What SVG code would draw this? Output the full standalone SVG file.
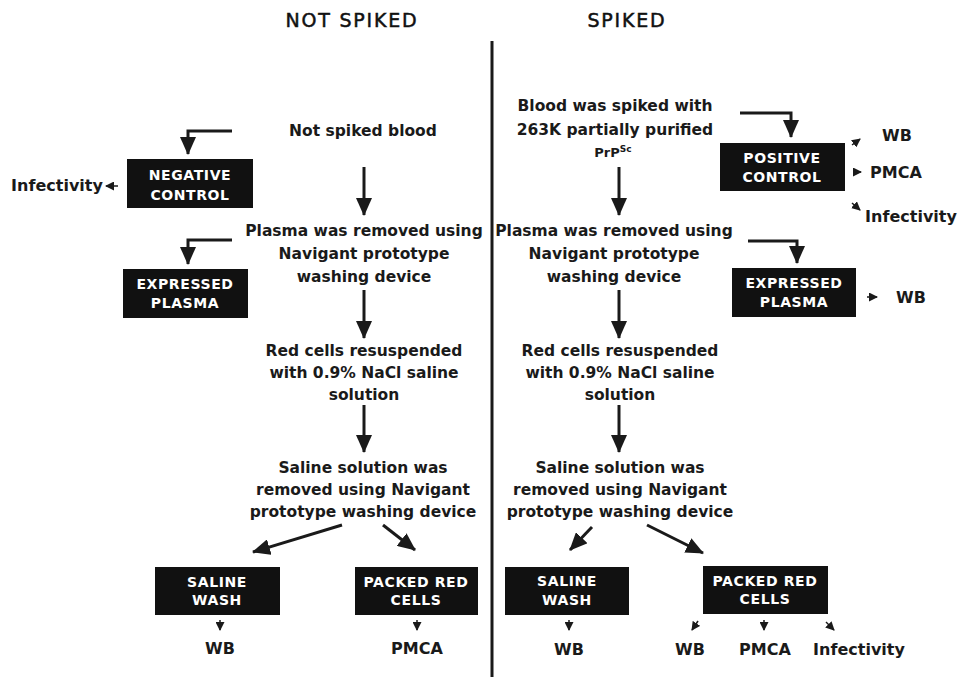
<svg xmlns="http://www.w3.org/2000/svg" width="966" height="677" viewBox="0 0 966 677">
<style>
.hdr{font-family:"DejaVu Sans",sans-serif;font-size:19px;fill:#111;stroke:#111;stroke-width:0.5;text-anchor:middle;letter-spacing:1.8px}
.t{font-family:"DejaVu Sans",sans-serif;font-weight:bold;font-size:15.5px;fill:#1a1a1a;text-anchor:middle}
.s{font-family:"DejaVu Sans",sans-serif;font-weight:bold;font-size:16px;fill:#1a1a1a;text-anchor:middle}
.box{fill:#111}
.bt{font-family:"DejaVu Sans",sans-serif;font-weight:bold;font-size:14px;fill:#fff;text-anchor:middle;letter-spacing:0.6px}
.big{stroke:#1a1a1a;stroke-width:3;fill:none;marker-end:url(#ah)}
.sm{stroke:#1a1a1a;stroke-width:1.5;fill:none;marker-end:url(#ahs)}
</style>
<defs>
<marker id="ah" markerUnits="userSpaceOnUse" markerWidth="18" markerHeight="16" refX="17" refY="8" orient="auto">
<path d="M0,0 L18,8 L0,16 z" fill="#1a1a1a"/>
</marker>
<marker id="ahs" markerUnits="userSpaceOnUse" markerWidth="9" markerHeight="9" refX="8" refY="4.5" orient="auto">
<path d="M0,0 L9,4.5 L0,9 z" fill="#1a1a1a"/>
</marker>
</defs>
<rect width="966" height="677" fill="#fff"/>

<text class="hdr" x="352" y="27">NOT SPIKED</text>
<text class="hdr" x="627" y="27">SPIKED</text>
<line x1="492" y1="41" x2="492" y2="677" stroke="#1a1a1a" stroke-width="3"/>

<!-- Left column text nodes -->
<g id="not-spiked-blood"><text class="t" x="363" y="136">Not spiked blood</text></g>
<g id="plasma-removed-left"><text class="t" x="364" y="236">Plasma was removed using</text><text class="t" x="364" y="259">Navigant prototype</text><text class="t" x="364" y="282">washing device</text></g>
<g id="red-cells-left"><text class="t" x="364" y="356">Red cells resuspended</text><text class="t" x="364" y="378">with 0.9% NaCl saline</text><text class="t" x="364" y="400">solution</text></g>
<g id="saline-removed-left"><text class="t" x="363" y="473">Saline solution was</text><text class="t" x="363" y="495">removed using Navigant</text><text class="t" x="363" y="517">prototype washing device</text></g>

<g id="negative-control"><rect class="box" x="127" y="159" width="126" height="49"/><text class="bt" x="190" y="180">NEGATIVE</text><text class="bt" x="190" y="200">CONTROL</text></g>
<g id="infectivity-left"><text class="s" x="57" y="191">Infectivity</text></g>
<g id="expressed-plasma-left"><rect class="box" x="123" y="269" width="125" height="49"/><text class="bt" x="185" y="289">EXPRESSED</text><text class="bt" x="185" y="308">PLASMA</text></g>
<g id="saline-wash-left"><rect class="box" x="155" y="567" width="125" height="48"/><text class="bt" x="217" y="587">SALINE</text><text class="bt" x="217" y="605">WASH</text></g>
<g id="packed-left"><rect class="box" x="355" y="567" width="123" height="48"/><text class="bt" x="416" y="587">PACKED RED</text><text class="bt" x="416" y="605">CELLS</text></g>
<g id="wb-left"><text class="s" x="220" y="654">WB</text></g>
<g id="pmca-left"><text class="s" x="417" y="654">PMCA</text></g>

<!-- Right column text nodes -->
<g id="spiked-blood"><text class="t" x="615" y="111">Blood was spiked with</text><text class="t" x="615" y="135">263K partially purified</text><text class="t" x="613" y="157" style="font-size:13px">PrP<tspan dy="-5" style="font-size:9px">Sc</tspan></text></g>
<g id="plasma-removed-right"><text class="t" x="614" y="236">Plasma was removed using</text><text class="t" x="614" y="259">Navigant prototype</text><text class="t" x="614" y="282">washing device</text></g>
<g id="red-cells-right"><text class="t" x="620" y="356">Red cells resuspended</text><text class="t" x="620" y="378">with 0.9% NaCl saline</text><text class="t" x="620" y="400">solution</text></g>
<g id="saline-removed-right"><text class="t" x="620" y="473">Saline solution was</text><text class="t" x="620" y="495">removed using Navigant</text><text class="t" x="620" y="517">prototype washing device</text></g>

<g id="positive-control"><rect class="box" x="720" y="143" width="125" height="48"/><text class="bt" x="782" y="163">POSITIVE</text><text class="bt" x="782" y="182">CONTROL</text></g>
<g id="wb-pos"><text class="s" x="897" y="141">WB</text></g>
<g id="pmca-pos"><text class="s" x="896" y="178">PMCA</text></g>
<g id="infectivity-pos"><text class="s" x="911" y="222">Infectivity</text></g>
<g id="expressed-plasma-right"><rect class="box" x="732" y="268" width="124" height="49"/><text class="bt" x="794" y="288">EXPRESSED</text><text class="bt" x="794" y="307">PLASMA</text></g>
<g id="wb-exp"><text class="s" x="911" y="303">WB</text></g>
<g id="saline-wash-right"><rect class="box" x="505" y="567" width="124" height="48"/><text class="bt" x="567" y="586">SALINE</text><text class="bt" x="567" y="605">WASH</text></g>
<g id="packed-right"><rect class="box" x="703" y="566" width="125" height="48"/><text class="bt" x="765" y="586">PACKED RED</text><text class="bt" x="765" y="604">CELLS</text></g>
<g id="wb-r1"><text class="s" x="569" y="655">WB</text></g>
<g id="wb-r2"><text class="s" x="690" y="655">WB</text></g>
<g id="pmca-r"><text class="s" x="765" y="655">PMCA</text></g>
<g id="infectivity-r"><text class="s" x="859" y="655">Infectivity</text></g>

<!-- Connectors -->
<g id="connectors">
<path class="big" d="M232,131 H188 V154"/>
<path class="big" d="M232,240 H188 V264"/>
<path class="big" d="M740,113 H791 V137"/>
<path class="big" d="M748,241 H797 V263"/>
<line class="big" x1="364" y1="167" x2="364" y2="215"/>
<line class="big" x1="364" y1="290" x2="364" y2="338"/>
<line class="big" x1="364" y1="405" x2="364" y2="452"/>
<line class="big" x1="619" y1="167" x2="619" y2="215"/>
<line class="big" x1="619" y1="290" x2="619" y2="338"/>
<line class="big" x1="619" y1="405" x2="619" y2="452"/>
<line class="big" x1="342" y1="525" x2="253" y2="552"/>
<line class="big" x1="383" y1="525" x2="415" y2="550"/>
<line class="big" x1="592" y1="527" x2="570" y2="550"/>
<line class="big" x1="647" y1="525" x2="703" y2="553"/>
<line class="sm" x1="118" y1="186" x2="106" y2="186"/>
<line class="sm" x1="852" y1="145" x2="860" y2="139"/>
<line class="sm" x1="853" y1="172" x2="861" y2="172"/>
<line class="sm" x1="852" y1="203" x2="860" y2="210"/>
<line class="sm" x1="867" y1="297" x2="877" y2="297"/>
<line class="sm" x1="220" y1="620" x2="220" y2="630"/>
<line class="sm" x1="417" y1="620" x2="417" y2="630"/>
<line class="sm" x1="569" y1="620" x2="569" y2="630"/>
<line class="sm" x1="698" y1="621" x2="692" y2="630"/>
<line class="sm" x1="764" y1="620" x2="764" y2="630"/>
<line class="sm" x1="826" y1="622" x2="834" y2="630"/>
</g>
</svg>
